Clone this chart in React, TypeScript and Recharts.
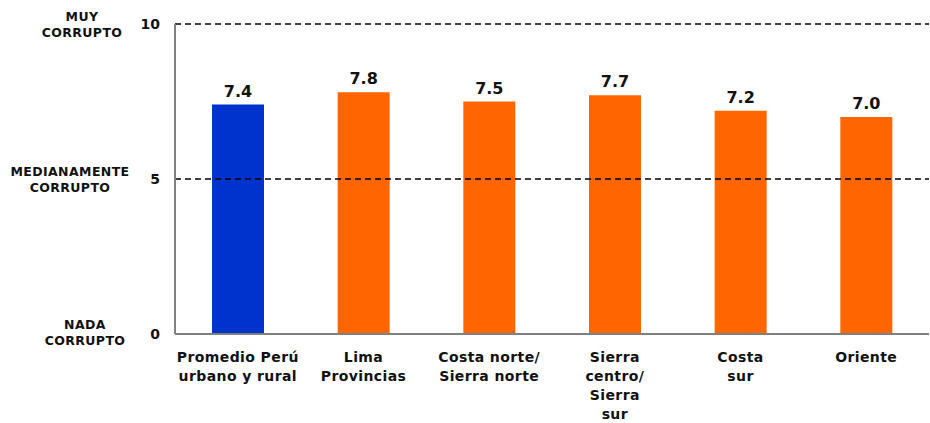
import { Bar, BarChart, Cell, LabelList, ReferenceLine, XAxis, YAxis } from "recharts";

const categories = [
  "Promedio Perú urbano y rural",
  "Lima Provincias",
  "Costa norte/ Sierra norte",
  "Sierra centro/ Sierra sur",
  "Costa sur",
  "Oriente",
];

const categoryLines = [
  ["Promedio Perú", "urbano y rural"],
  ["Lima", "Provincias"],
  ["Costa norte/", "Sierra norte"],
  ["Sierra", "centro/", "Sierra", "sur"],
  ["Costa", "sur"],
  ["Oriente"],
];

const values = [7.4, 7.8, 7.5, 7.7, 7.2, 7.0];

const yTicks = [0, 5, 10];
const yTickLabels = [
  ["NADA", "CORRUPTO"],
  ["MEDIANAMENTE", "CORRUPTO"],
  ["MUY", "CORRUPTO"],
];

const BLUE = "#0033CC";
const ORANGE = "#FF6600";
const FONT = "'DejaVu Sans', Verdana, sans-serif";

const data = categories.map((name, i) => ({ name, value: values[i] }));

function YTick(props: any) {
  const { y, payload } = props;
  const idx = yTicks.indexOf(payload.value);
  const lines = yTickLabels[idx] || [];
  const centers = [85, 70, 82];
  return (
    <g fontFamily={FONT} fontWeight="bold" fill="#111">
      <text x={160} y={y} dy={5} textAnchor="end" fontSize={14}>
        {payload.value}
      </text>
      {lines.map((line, i) => (
        <text
          key={i}
          x={centers[idx]}
          y={y + (idx === 0 ? -10 : -8) + i * 16}
          dy={4.5}
          textAnchor="middle"
          fontSize={12.5}
          letterSpacing={0.4}
        >
          {line}
        </text>
      ))}
    </g>
  );
}

function XTick(props: any) {
  const { x, y, index } = props;
  const lines = categoryLines[index] || [];
  return (
    <g fontFamily={FONT} fontWeight="bold" fill="#111">
      {lines.map((line, i) => (
        <text
          key={i}
          x={x}
          y={y + 20 + i * 19}
          textAnchor="middle"
          fontSize={14}
          letterSpacing={0.4}
        >
          {line}
        </text>
      ))}
    </g>
  );
}

export default function App() {
  return (
    <div style={{ position: "absolute", left: 0, top: 0, background: "#fff" }}>
      <BarChart
        width={930}
        height={423}
        data={data}
        margin={{ top: 24, right: 1, bottom: 0, left: 0 }}
      >
        <XAxis
          dataKey="name"
          height={89}
          interval={0}
          tickLine={false}
          axisLine={{ stroke: "#808080", strokeWidth: 2 }}
          tick={<XTick />}
        />
        <YAxis
          width={175}
          domain={[0, 10]}
          ticks={yTicks}
          tickLine={false}
          axisLine={{ stroke: "#808080", strokeWidth: 2 }}
          tick={<YTick />}
        />
        <ReferenceLine y={5} stroke="#000" strokeWidth={1.5} strokeDasharray="6 4" />
        <ReferenceLine y={10} stroke="#000" strokeWidth={1.5} strokeDasharray="6 4" />
        <Bar dataKey="value" barSize={52} isAnimationActive={false}>
          {data.map((_, i) => (
            <Cell key={`cell-${i}`} fill={i === 0 ? BLUE : ORANGE} />
          ))}
          <LabelList
            dataKey="value"
            position="top"
            offset={8}
            formatter={(v: any) => Number(v).toFixed(1)}
            style={{ fontFamily: FONT, fontWeight: "bold", fontSize: 16, fill: "#111" }}
          />
        </Bar>
      </BarChart>
    </div>
  );
}
